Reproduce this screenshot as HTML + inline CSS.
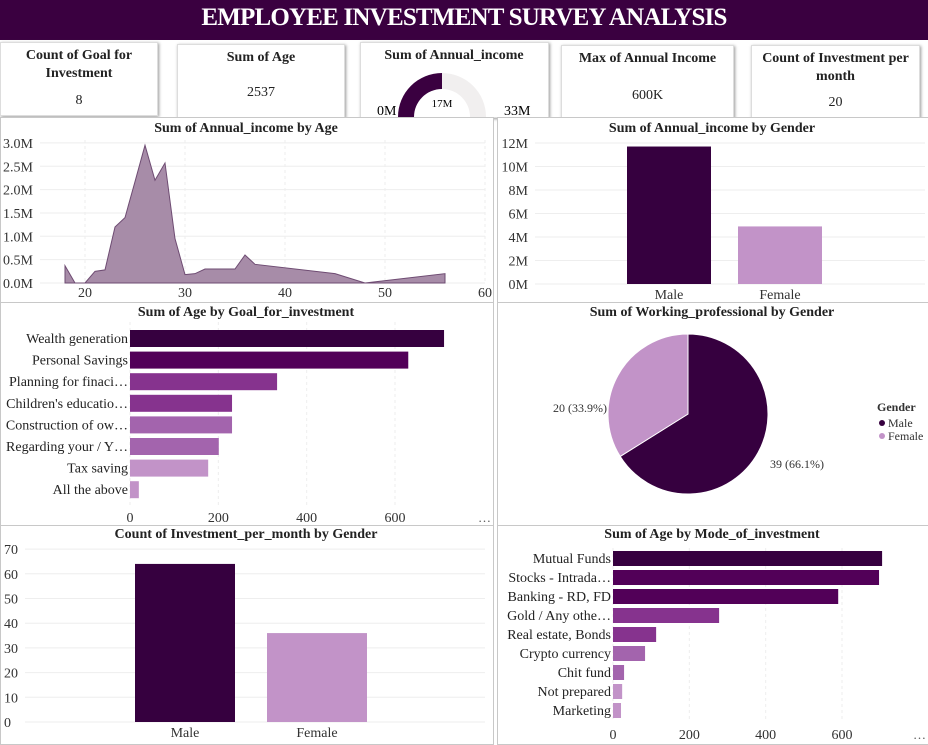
<!DOCTYPE html>
<html><head><meta charset="utf-8">
<style>
body{margin:0;width:928px;height:743px;background:#fff;font-family:"Liberation Serif",serif;overflow:hidden;position:relative}
.abs{position:absolute}
.card{position:absolute;background:#fff;box-shadow:1px 1px 3px #999;border:1px solid #ddd;text-align:center;font-size:14px;color:#222;overflow:hidden}
.card b{display:block;font-size:14px;line-height:18px;margin-top:4px}
.panel{position:absolute;border:1px solid #c8c8c8;background:#fff}
svg text{font-family:"Liberation Serif",serif}
</style></head><body>
<div class="abs" style="left:0;top:0;width:928px;height:40px;background:#3a0040;color:#fff;font-weight:bold;font-size:25px;text-align:center;line-height:36px;letter-spacing:-0.8px">EMPLOYEE INVESTMENT SURVEY ANALYSIS</div>

<div class="card" style="left:0;top:42px;width:156px;height:72px"><b>Count of Goal for Investment</b><div style="margin-top:10px">8</div></div>
<div class="card" style="left:177px;top:44px;width:166px;height:72px"><b>Sum of Age</b><div style="margin-top:18px">2537</div></div>
<div class="card" style="left:360px;top:42px;width:187px;height:74px">
<svg width="187" height="74" class="abs" style="left:0;top:0">
<path d="M 37 74 A 44 44 0 0 1 125 74 L 109 74 A 28 28 0 0 0 53 74 Z" fill="#f1efef"/>
<path d="M 37 74 A 44 44 0 0 1 81 30 L 81 46 A 28 28 0 0 0 53 74 Z" fill="#3a0040"/>
<text x="93" y="16" font-size="14" font-weight="bold" text-anchor="middle" fill="#222">Sum of Annual_income</text>
<text x="81" y="64" font-size="11" text-anchor="middle">17M</text>
<text x="16" y="72" font-size="14">0M</text>
<text x="143" y="72" font-size="14">33M</text>
</svg></div>
<div class="card" style="left:561px;top:45px;width:171px;height:72px"><b>Max of Annual Income</b><div style="margin-top:20px">600K</div></div>
<div class="card" style="left:751px;top:45px;width:167px;height:72px"><b>Count of Investment per month</b><div style="margin-top:9px">20</div></div>

<div class="panel" style="left:0;top:117px;width:492px;height:184px"></div>
<div class="panel" style="left:497px;top:117px;width:430px;height:184px"></div>
<div class="panel" style="left:0;top:302px;width:492px;height:222px"></div>
<div class="panel" style="left:497px;top:302px;width:430px;height:222px"></div>
<div class="panel" style="left:0;top:525px;width:492px;height:218px"></div>
<div class="panel" style="left:497px;top:525px;width:430px;height:218px"></div>

<svg id="main" class="abs" style="left:0;top:0" width="928" height="743"></svg>

<script>
const ages=[18,19,20,21,22,23,24,25,26,27,28,29,30,31,32,35,36,37,45,48,56];
const incomeM=[0.37,0,0,0.25,0.28,1.2,1.4,2.17,2.95,2.2,2.57,0.95,0.18,0.2,0.3,0.3,0.6,0.4,0.2,0,0.2];
const ageTicks=[20,30,40,50,60];
const incomeTicks=[0,0.5,1,1.5,2,2.5,3];
const genders=["Male","Female"];
const incomeByGenderM=[11.7,4.9];
const genderIncomeTicks=[0,2,4,6,8,10,12];
const goals=["Wealth generation","Personal Savings","Planning for finaci…","Children's educatio…","Construction of ow…","Regarding your / Y…","Tax saving","All the above"];
const goalAge=[711,630,333,231,231,201,177,20];
const goalColors=["#36003f","#520058","#86338e","#86338e","#a364ad","#a364ad","#c293c8","#c293c8"];
const ageTicks2=[0,200,400,600];
const pieLabels=["Male","Female"];
const pieValues=[39,20];
const invCount=[64,36];
const invTicks=[0,10,20,30,40,50,60,70];
const modes=["Mutual Funds","Stocks - Intrada…","Banking - RD, FD","Gold / Any othe…","Real estate, Bonds","Crypto currency","Chit fund","Not prepared","Marketing"];
const modeAge=[705,697,590,278,113,84,29,24,21];
const modeColors=["#36003f","#520058","#520058","#86338e","#86338e","#a364ad","#a364ad","#c293c8","#c293c8"];

const svg=document.getElementById('main');
const NS='http://www.w3.org/2000/svg';
function el(t,a,txt){const e=document.createElementNS(NS,t);for(const k in a)e.setAttribute(k,a[k]);if(txt!==undefined)e.textContent=txt;svg.appendChild(e);return e;}
function title(x,y,s){const e=el('text',{x:x,y:y,'font-size':14,'font-weight':'bold','text-anchor':'middle',fill:'#222'},s);

}

// Chart 1 area
title(246,132,'Sum of Annual_income by Age');
const ax=a=>85+(a-20)*10.0, ay=v=>283-v*46.7;
incomeTicks.forEach(t=>{el('line',{x1:40,x2:485,y1:ay(t),y2:ay(t),stroke:'#eee'});
const e=el('text',{x:3,y:ay(t)+5,'font-size':14,fill:'#333'},t.toFixed(1)+'M');

});
ageTicks.forEach(t=>{el('line',{x1:ax(t),x2:ax(t),y1:140,y2:283,stroke:'#eee','stroke-dasharray':'3,3'});
const e=el('text',{x:ax(t),y:297,'font-size':14,'text-anchor':'middle',fill:'#333'},t);

});
let d='M'+ax(ages[0])+','+ay(0);
ages.forEach((a,i)=>d+=' L'+ax(a)+','+ay(incomeM[i]));
d+=' L'+ax(ages[ages.length-1])+','+ay(0)+' Z';
const area=el('path',{d:d,fill:'#a78ca8',stroke:'#6e4b72','stroke-width':1});



// Chart 2 bars
title(712,132,'Sum of Annual_income by Gender');
const gy=v=>284-v*11.75;
genderIncomeTicks.forEach(t=>{el('line',{x1:535,x2:925,y1:gy(t),y2:gy(t),stroke:'#eee'});
const e=el('text',{x:528,y:gy(t)+5,'font-size':14,'text-anchor':'end',fill:'#333'},t+'M');

});
const gcol=["#36003f","#c293c8"];
genders.forEach((g,i)=>{const x=627+i*111;
const r=el('rect',{x:x,y:gy(incomeByGenderM[i]),width:84,height:gy(0)-gy(incomeByGenderM[i]),fill:gcol[i]});


el('text',{x:x+42,y:299,'font-size':14,'text-anchor':'middle',fill:'#333'},g);});

// Chart 3 goal bars
title(246,316,'Sum of Age by Goal_for_investment');
const bx=v=>130+v*0.4417;
ageTicks2.forEach(t=>{el('line',{x1:bx(t),x2:bx(t),y1:322,y2:505,stroke:'#eee','stroke-dasharray':'3,3'});
const e=el('text',{x:bx(t),y:522,'font-size':14,'text-anchor':'middle',fill:'#333'},t);

});
el('text',{x:478,y:522,'font-size':13,fill:'#555'},'…');
goals.forEach((g,i)=>{const y=330+i*21.6;
const r=el('rect',{x:130,y:y,width:bx(goalAge[i])-130,height:17,fill:goalColors[i]});


el('text',{x:128,y:y+13,'font-size':14,'text-anchor':'end',fill:'#222'},g);});

// Pie
title(712,316,'Sum of Working_professional by Gender');
const cx=688,cy=414,R=80,tot=pieValues.reduce((a,b)=>a+b,0);
let ang=0;const pc=["#36003f","#c293c8"];
pieValues.forEach((v,i)=>{const a0=ang,a1=ang+v/tot*2*Math.PI;ang=a1;
const p=(a)=>[cx+R*Math.sin(a),cy-R*Math.cos(a)];
const [x0,y0]=p(a0),[x1,y1]=p(a1);
const s=el('path',{d:`M${cx},${cy} L${x0},${y0} A${R},${R} 0 ${a1-a0>Math.PI?1:0} 1 ${x1},${y1} Z`,fill:pc[i],stroke:'#fff','stroke-width':1});


const pct=(v/tot*100).toFixed(1);
if(i==0)el('text',{x:770,y:468,'font-size':12,fill:'#333'},v+' ('+pct+'%)');
else el('text',{x:553,y:412,'font-size':12,fill:'#333'},v+' ('+pct+'%)');});
el('text',{x:877,y:411,'font-size':12,'font-weight':'bold',fill:'#333'},'Gender');
pieLabels.forEach((l,i)=>{el('circle',{cx:882,cy:423+i*13,r:3,fill:pc[i]});
const t=el('text',{x:888,y:427+i*13,'font-size':12,fill:'#333'},l);

});

// Chart 5
title(246,538,'Count of Investment_per_month by Gender');
const iy=v=>722-v*2.47;
invTicks.forEach(t=>{el('line',{x1:25,x2:485,y1:iy(t),y2:iy(t),stroke:'#eee'});
const e=el('text',{x:4,y:iy(t)+5,'font-size':14,fill:'#333'},t);

});
genders.forEach((g,i)=>{const x=135+i*132;
const r=el('rect',{x:x,y:iy(invCount[i]),width:100,height:iy(0)-iy(invCount[i]),fill:gcol[i]});


el('text',{x:x+50,y:737,'font-size':14,'text-anchor':'middle',fill:'#333'},g);});

// Chart 6
title(712,538,'Sum of Age by Mode_of_investment');
const mx=v=>613+v*0.3817;
ageTicks2.forEach(t=>{el('line',{x1:mx(t),x2:mx(t),y1:548,y2:722,stroke:'#eee','stroke-dasharray':'3,3'});
const e=el('text',{x:mx(t),y:739,'font-size':14,'text-anchor':'middle',fill:'#333'},t);

});
el('text',{x:913,y:739,'font-size':13,fill:'#555'},'…');
modes.forEach((m,i)=>{const y=551+i*19;
const r=el('rect',{x:613,y:y,width:mx(modeAge[i])-613,height:15,fill:modeColors[i]});


el('text',{x:611,y:y+12,'font-size':14,'text-anchor':'end',fill:'#222'},m);});
</script>
</body></html>
